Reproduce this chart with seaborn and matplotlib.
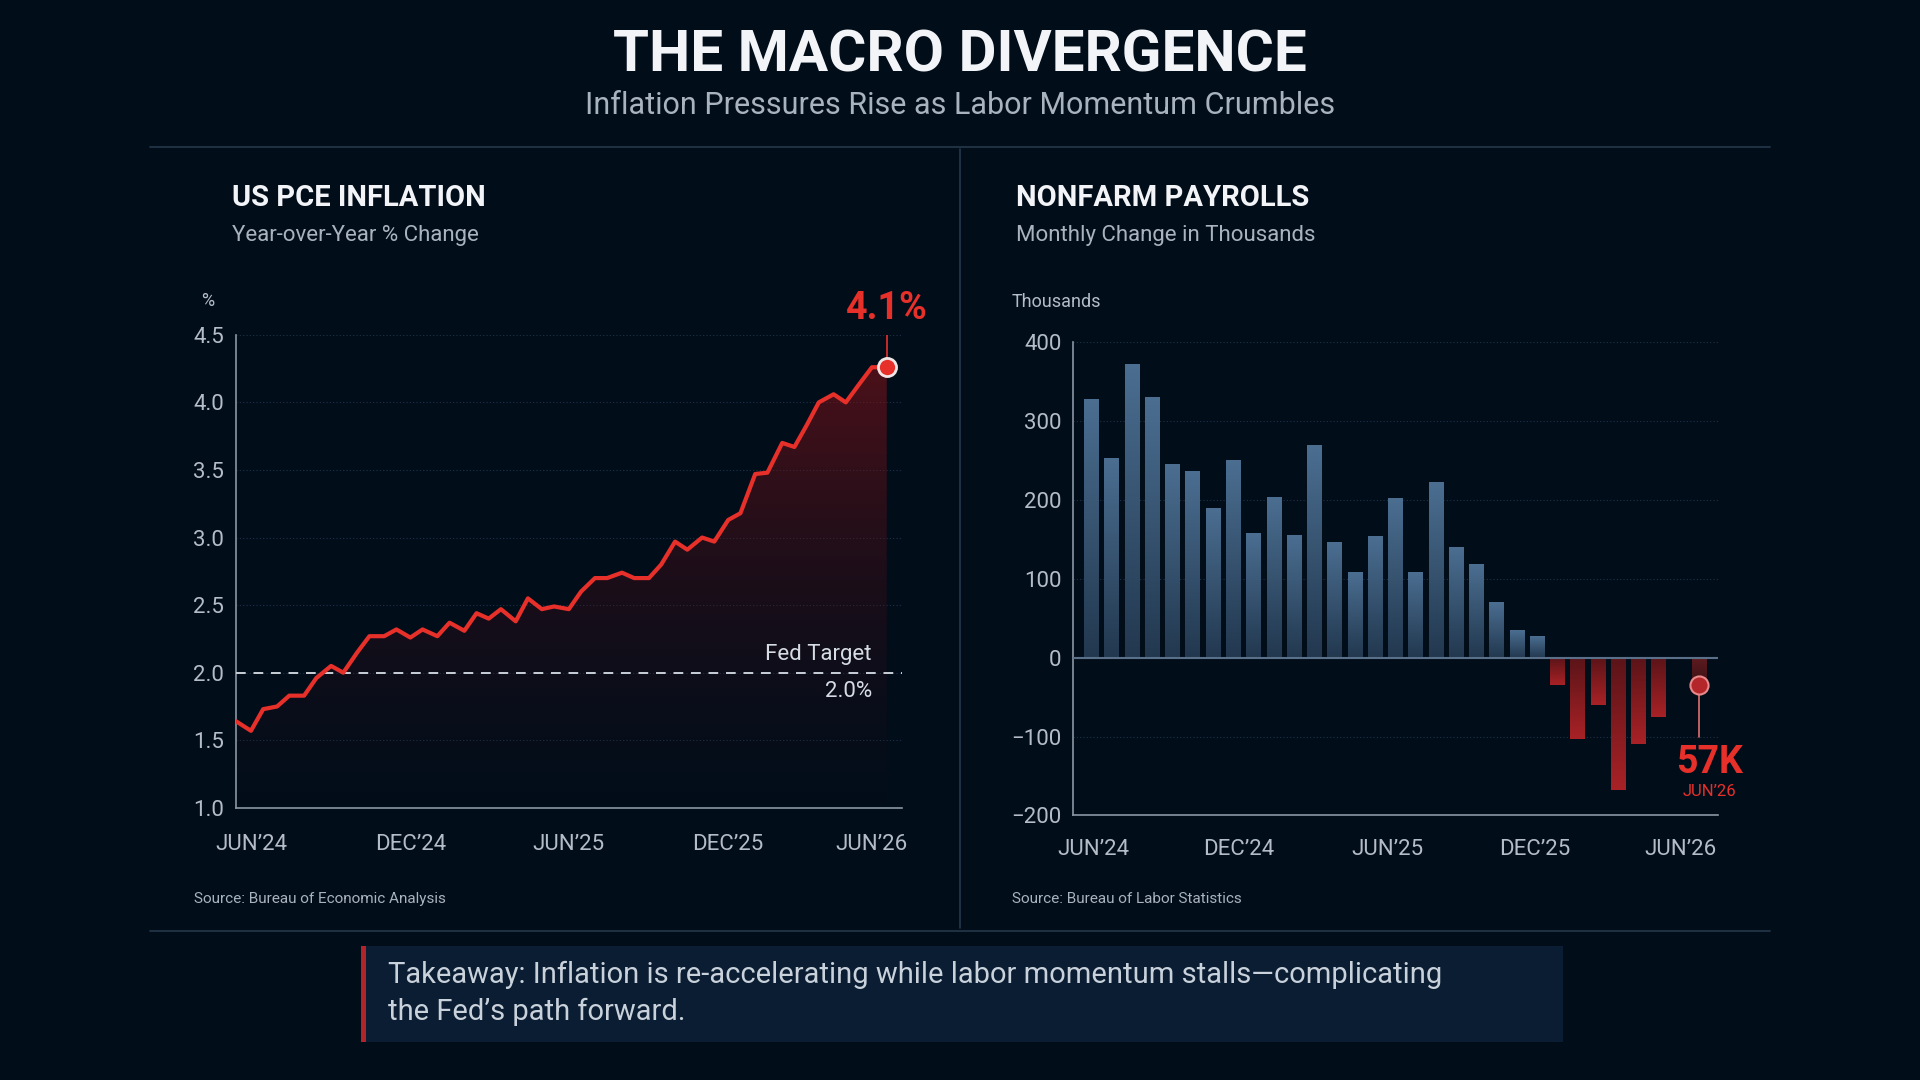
import numpy as np
import pandas as pd
import matplotlib.pyplot as plt
import matplotlib.dates as mdates
from matplotlib.patches import Rectangle
from matplotlib.colors import LinearSegmentedColormap
import seaborn as sns

# PCE inflation, semi-monthly readings (YoY %)
pce_start = "2024-05-15"
pce_values = [1.64, 1.57, 1.73, 1.75, 1.83, 1.83, 1.96, 2.05, 2.00, 2.15,
              2.27, 2.27, 2.32, 2.26, 2.32, 2.27, 2.37, 2.31, 2.44, 2.40,
              2.47, 2.38, 2.55, 2.47, 2.49, 2.47, 2.60, 2.70, 2.70, 2.74,
              2.70, 2.70, 2.80, 2.97, 2.91, 3.00, 2.97, 3.13, 3.18, 3.47,
              3.48, 3.70, 3.67, 3.83, 4.00, 4.06, 4.00, 4.14, 4.26, 4.26]
pce_ticks = ["2024-06-01", "2024-12-01", "2025-06-01", "2025-12-01", "2026-05-15"]
pce_ticklabels = ["JUN\u201924", "DEC\u201924", "JUN\u201925", "DEC\u201925", "JUN\u201926"]
fed_target = 2.0

# Nonfarm payrolls, monthly change (thousands)
nfp_values = [328, 253, 372, 331, 246, 237, 190, 251, 158, 203,
              156, 270, 147, 109, 154, 202, 109, 222, 140, 118,
              70, 35, 27, -35, -103, -60, -168, -110, -75, 0, -35]
nfp_tick_pos = [0.1, 7.25, 14.6, 21.9, 29.1]
nfp_ticklabels = ["JUN\u201924", "DEC\u201924", "JUN\u201925", "DEC\u201925", "JUN\u201926"]

BG = "#020d1a"
RED = "#e8302a"
GRID = "#1c3146"
TXT = "#b4bcc8"

sns.set_theme(style="dark")
plt.rcParams["font.family"] = ["Roboto", "DejaVu Sans"]

fig = plt.figure(figsize=(19.2, 10.8), dpi=100, facecolor=BG)

# ---------- header ----------
fig.text(0.5, 0.948, "THE MACRO DIVERGENCE", ha="center", va="center",
         color="#f2f4f7", fontsize=42, fontweight="bold")
fig.text(0.5, 0.902, "Inflation Pressures Rise as Labor Momentum Crumbles",
         ha="center", va="center", color="#a9b3bf", fontsize=22)
fig.add_artist(plt.Line2D([0.078, 0.922], [0.864, 0.864], color="#25384c", lw=1.2))
fig.add_artist(plt.Line2D([0.078, 0.922], [0.138, 0.138], color="#25384c", lw=1.2))
fig.add_artist(plt.Line2D([0.5, 0.5], [0.141, 0.862], color="#25384c", lw=1.2))

fig.text(0.121, 0.817, "US PCE INFLATION", color="#f2f4f7", fontsize=21,
         fontweight="bold", va="center")
fig.text(0.121, 0.782, "Year-over-Year % Change", color="#a9b3bf", fontsize=16, va="center")
fig.text(0.529, 0.817, "NONFARM PAYROLLS", color="#f2f4f7", fontsize=21,
         fontweight="bold", va="center")
fig.text(0.529, 0.782, "Monthly Change in Thousands", color="#a9b3bf", fontsize=16, va="center")
fig.text(0.108, 0.721, "%", color=TXT, fontsize=13, va="center", ha="center")
fig.text(0.527, 0.720, "Thousands", color=TXT, fontsize=13, va="center")
fig.text(0.101, 0.168, "Source: Bureau of Economic Analysis", color="#a9b3bf", fontsize=11, va="center")
fig.text(0.527, 0.168, "Source: Bureau of Labor Statistics", color="#a9b3bf", fontsize=11, va="center")

# ---------- takeaway box ----------
fig.add_artist(Rectangle((0.188, 0.035), 0.626, 0.089, transform=fig.transFigure,
                         facecolor="#0a1d33", edgecolor="none"))
fig.add_artist(Rectangle((0.188, 0.035), 0.0025, 0.089, transform=fig.transFigure,
                         facecolor="#b3232a", edgecolor="none"))
fig.text(0.202, 0.080,
         "Takeaway: Inflation is re-accelerating while labor momentum stalls\u2014complicating\nthe Fed\u2019s path forward.",
         color="#c9d1db", fontsize=21, va="center", linespacing=1.4)


def style_axes(ax):
    ax.set_facecolor(BG)
    for s in ["top", "right"]:
        ax.spines[s].set_visible(False)
    for s in ["left", "bottom"]:
        ax.spines[s].set_color("#8a96a4")
        ax.spines[s].set_linewidth(1.2)
    ax.tick_params(colors=TXT, labelsize=16, length=5, width=1, color="#8a96a4")
    ax.grid(axis="y", color=GRID, linestyle=(0, (1, 2)), linewidth=0.8)
    ax.grid(axis="x", visible=False)


# ---------- left: PCE ----------
dates = pd.date_range(pce_start, periods=len(pce_values), freq="SMS")
pce = pd.DataFrame({"date": dates, "value": pce_values})
x_end = dates[-1] + pd.Timedelta(days=18)

ax1 = fig.add_axes([0.123, 0.252, 0.347, 0.438])
style_axes(ax1)
sns.lineplot(data=pce, x="date", y="value", ax=ax1, color=RED, linewidth=3, zorder=4)
ax1.set_xlabel("")
ax1.set_ylabel("")
ax1.set_yticks(np.arange(1.0, 4.51, 0.5))
ax1.set_yticklabels([f"{v:.1f}" for v in np.arange(1.0, 4.51, 0.5)])
ax1.set_xticks(pd.to_datetime(pce_ticks))
ax1.set_xticklabels(pce_ticklabels)
ax1.tick_params(axis="x", pad=14)

# gradient fill under the line
xn = mdates.date2num(dates)
poly = ax1.fill_between(dates, pce_values, 1.0, color="none")
grad = np.linspace(0, 1, 256).reshape(-1, 1)
cmap = LinearSegmentedColormap.from_list("f", [(0.18, 0.05, 0.08, 0.0), (0.55, 0.08, 0.1, 0.55)])
im = ax1.imshow(grad, cmap=cmap, aspect="auto", origin="lower",
                extent=[xn[0], xn[-1], 1.0, 4.3], zorder=2)
im.set_clip_path(poly.get_paths()[0], transform=ax1.transData)
ax1.set_xlim(dates[0], x_end)
ax1.set_ylim(1.0, 4.5)

ax1.axhline(fed_target, color="#c9d0d8", linestyle=(0, (5, 4)), linewidth=1.4, zorder=3)
ax1.text(dates[-2], fed_target + 0.06, "Fed Target", color="#d6dce3", fontsize=16,
         ha="right", va="bottom")
ax1.text(dates[-2], fed_target - 0.06, f"{fed_target:.1f}%", color="#d6dce3", fontsize=16,
         ha="right", va="top")

last_d, last_v = dates[-1], pce_values[-1]
ax1.plot([last_d, last_d], [last_v + 0.05, last_v + 0.25], color=RED, lw=1.2, zorder=5)
ax1.scatter([last_d], [last_v], s=170, color=RED, edgecolor="#f0e6e6", linewidth=2, zorder=6)
ax1.text(last_d, last_v + 0.3, "4.1%", color=RED, fontsize=27, fontweight="bold",
         ha="center", va="bottom")

# ---------- right: NFP ----------
nfp = pd.DataFrame({"idx": np.arange(len(nfp_values)), "value": nfp_values})
ax2 = fig.add_axes([0.559, 0.245, 0.336, 0.438])
style_axes(ax2)
sns.barplot(data=nfp, x="idx", y="value", ax=ax2, color="#4a6b8c", width=0.72,
            native_scale=True, saturation=1, zorder=3)
ax2.set_xlabel("")
ax2.set_ylabel("")
ax2.set_yticks([-200, -100, 0, 100, 200, 300, 400])
ax2.set_yticklabels(["\u2212200", "\u2212100", "0", "100", "200", "300", "400"])
ax2.set_xticks(nfp_tick_pos)
ax2.set_xticklabels(nfp_ticklabels)
ax2.tick_params(axis="x", pad=12)

blue_cmap = LinearSegmentedColormap.from_list("b", ["#22384f", "#4b6e91"])
red_cmap = LinearSegmentedColormap.from_list("r", ["#a82226", "#5a1418"])
n = len(nfp_values)
for i, p in enumerate(list(ax2.patches)):
    x0, w = p.get_x(), p.get_width()
    h = p.get_height()
    p.set_visible(False)
    if h == 0:
        continue
    y0, y1 = sorted([0, h])
    if h > 0:
        cm = blue_cmap
    elif i == n - 1:
        cm = LinearSegmentedColormap.from_list("d", ["#3a1216", "#5e1b1f"])
    else:
        cm = red_cmap
    ax2.imshow(grad, cmap=cm, aspect="auto", origin="lower",
               extent=[x0, x0 + w, y0, y1], zorder=3)
ax2.set_xlim(-0.9, n - 0.05)
ax2.set_ylim(-200, 400)
ax2.axhline(0, color="#5a7088", linewidth=1.5, zorder=4)

lx, lv = n - 1, nfp_values[-1]
ax2.plot([lx, lx], [lv, -100], color="#e07070", lw=1.2, zorder=5)
ax2.scatter([lx], [lv], s=170, color="#b3262a", edgecolor="#e88a8a", linewidth=1.5, zorder=6)
ax2.text(lx + 0.5, -110, "57K", color=RED, fontsize=27, fontweight="bold",
         ha="center", va="top")
ax2.text(lx + 0.5, -160, "JUN\u201926", color=RED, fontsize=12, ha="center", va="top")

fig.savefig("out.png", dpi=100, facecolor=BG)
